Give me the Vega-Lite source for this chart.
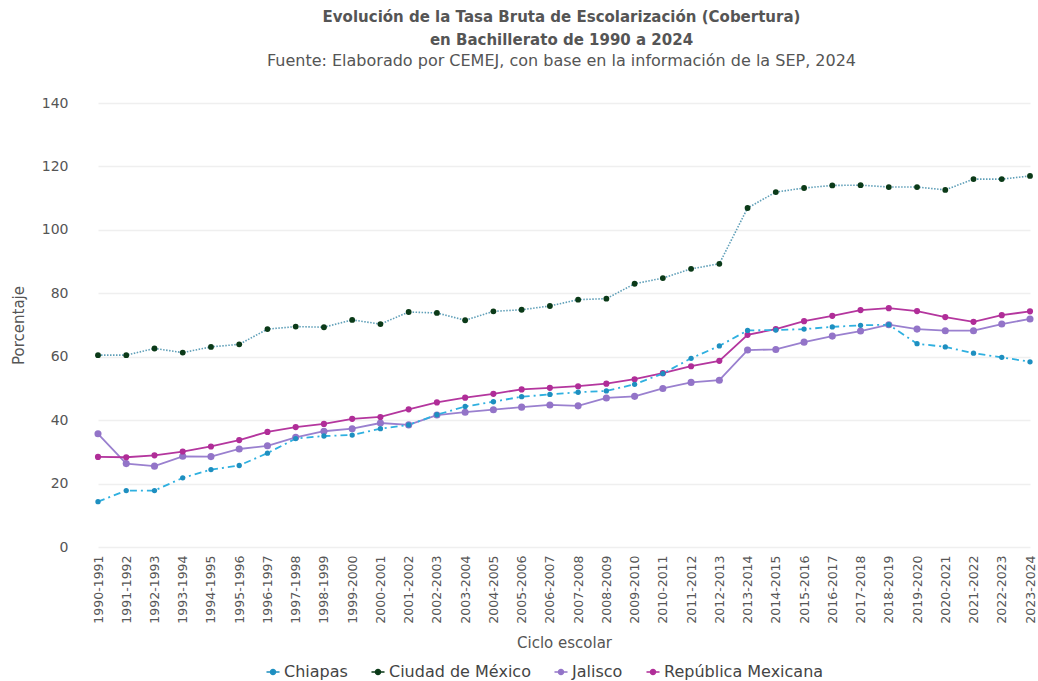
{
  "$schema": "https://vega.github.io/schema/vega-lite/v6.json",
  "width": 953,
  "height": 444,
  "autosize": "none",
  "padding": {"left": 85, "top": 103, "right": 0, "bottom": 134},
  "background": "white",
  "config": {
    "font": "DejaVu Sans",
    "view": {"stroke": null},
    "axis": {"labelColor": "#555555", "titleColor": "#555555", "titleFontWeight": "normal"}
  },
  "title": {
    "text": ["Evolución de la Tasa Bruta de Escolarización (Cobertura)", "en Bachillerato de 1990 a 2024"],
    "subtitle": "Fuente: Elaborado por CEMEJ, con base en la información de la SEP, 2024",
    "anchor": "middle",
    "fontSize": 15,
    "fontWeight": "bold",
    "color": "#555555",
    "lineHeight": 23,
    "subtitleFontSize": 16,
    "subtitleColor": "#555555",
    "subtitlePadding": 5,
    "offset": 27
  },
  "datasets": {
    "tasa": [
      {"ciclo": "1990-1991", "entidad": "Chiapas", "valor": 14.3},
      {"ciclo": "1991-1992", "entidad": "Chiapas", "valor": 17.8},
      {"ciclo": "1992-1993", "entidad": "Chiapas", "valor": 17.8},
      {"ciclo": "1993-1994", "entidad": "Chiapas", "valor": 21.8},
      {"ciclo": "1994-1995", "entidad": "Chiapas", "valor": 24.4},
      {"ciclo": "1995-1996", "entidad": "Chiapas", "valor": 25.7},
      {"ciclo": "1996-1997", "entidad": "Chiapas", "valor": 29.6},
      {"ciclo": "1997-1998", "entidad": "Chiapas", "valor": 34.2},
      {"ciclo": "1998-1999", "entidad": "Chiapas", "valor": 35.0},
      {"ciclo": "1999-2000", "entidad": "Chiapas", "valor": 35.3},
      {"ciclo": "2000-2001", "entidad": "Chiapas", "valor": 37.3},
      {"ciclo": "2001-2002", "entidad": "Chiapas", "valor": 38.5},
      {"ciclo": "2002-2003", "entidad": "Chiapas", "valor": 41.7},
      {"ciclo": "2003-2004", "entidad": "Chiapas", "valor": 44.3},
      {"ciclo": "2004-2005", "entidad": "Chiapas", "valor": 45.8},
      {"ciclo": "2005-2006", "entidad": "Chiapas", "valor": 47.4},
      {"ciclo": "2006-2007", "entidad": "Chiapas", "valor": 48.1},
      {"ciclo": "2007-2008", "entidad": "Chiapas", "valor": 48.8},
      {"ciclo": "2008-2009", "entidad": "Chiapas", "valor": 49.2},
      {"ciclo": "2009-2010", "entidad": "Chiapas", "valor": 51.3},
      {"ciclo": "2010-2011", "entidad": "Chiapas", "valor": 54.7},
      {"ciclo": "2011-2012", "entidad": "Chiapas", "valor": 59.5},
      {"ciclo": "2012-2013", "entidad": "Chiapas", "valor": 63.4},
      {"ciclo": "2013-2014", "entidad": "Chiapas", "valor": 68.3},
      {"ciclo": "2014-2015", "entidad": "Chiapas", "valor": 68.4},
      {"ciclo": "2015-2016", "entidad": "Chiapas", "valor": 68.7},
      {"ciclo": "2016-2017", "entidad": "Chiapas", "valor": 69.4},
      {"ciclo": "2017-2018", "entidad": "Chiapas", "valor": 69.9},
      {"ciclo": "2018-2019", "entidad": "Chiapas", "valor": 70.1},
      {"ciclo": "2019-2020", "entidad": "Chiapas", "valor": 64.1},
      {"ciclo": "2020-2021", "entidad": "Chiapas", "valor": 63.1},
      {"ciclo": "2021-2022", "entidad": "Chiapas", "valor": 61.1},
      {"ciclo": "2022-2023", "entidad": "Chiapas", "valor": 59.8},
      {"ciclo": "2023-2024", "entidad": "Chiapas", "valor": 58.4},
      {"ciclo": "1990-1991", "entidad": "Ciudad de México", "valor": 60.5},
      {"ciclo": "1991-1992", "entidad": "Ciudad de México", "valor": 60.5},
      {"ciclo": "1992-1993", "entidad": "Ciudad de México", "valor": 62.6},
      {"ciclo": "1993-1994", "entidad": "Ciudad de México", "valor": 61.3},
      {"ciclo": "1994-1995", "entidad": "Ciudad de México", "valor": 63.1},
      {"ciclo": "1995-1996", "entidad": "Ciudad de México", "valor": 63.9},
      {"ciclo": "1996-1997", "entidad": "Ciudad de México", "valor": 68.7},
      {"ciclo": "1997-1998", "entidad": "Ciudad de México", "valor": 69.5},
      {"ciclo": "1998-1999", "entidad": "Ciudad de México", "valor": 69.3},
      {"ciclo": "1999-2000", "entidad": "Ciudad de México", "valor": 71.6},
      {"ciclo": "2000-2001", "entidad": "Ciudad de México", "valor": 70.3},
      {"ciclo": "2001-2002", "entidad": "Ciudad de México", "valor": 74.1},
      {"ciclo": "2002-2003", "entidad": "Ciudad de México", "valor": 73.8},
      {"ciclo": "2003-2004", "entidad": "Ciudad de México", "valor": 71.5},
      {"ciclo": "2004-2005", "entidad": "Ciudad de México", "valor": 74.3},
      {"ciclo": "2005-2006", "entidad": "Ciudad de México", "valor": 74.8},
      {"ciclo": "2006-2007", "entidad": "Ciudad de México", "valor": 76.0},
      {"ciclo": "2007-2008", "entidad": "Ciudad de México", "valor": 78.0},
      {"ciclo": "2008-2009", "entidad": "Ciudad de México", "valor": 78.3},
      {"ciclo": "2009-2010", "entidad": "Ciudad de México", "valor": 83.0},
      {"ciclo": "2010-2011", "entidad": "Ciudad de México", "valor": 84.8},
      {"ciclo": "2011-2012", "entidad": "Ciudad de México", "valor": 87.7},
      {"ciclo": "2012-2013", "entidad": "Ciudad de México", "valor": 89.3},
      {"ciclo": "2013-2014", "entidad": "Ciudad de México", "valor": 106.9},
      {"ciclo": "2014-2015", "entidad": "Ciudad de México", "valor": 111.9},
      {"ciclo": "2015-2016", "entidad": "Ciudad de México", "valor": 113.2},
      {"ciclo": "2016-2017", "entidad": "Ciudad de México", "valor": 114.0},
      {"ciclo": "2017-2018", "entidad": "Ciudad de México", "valor": 114.1},
      {"ciclo": "2018-2019", "entidad": "Ciudad de México", "valor": 113.5},
      {"ciclo": "2019-2020", "entidad": "Ciudad de México", "valor": 113.5},
      {"ciclo": "2020-2021", "entidad": "Ciudad de México", "valor": 112.6},
      {"ciclo": "2021-2022", "entidad": "Ciudad de México", "valor": 116.0},
      {"ciclo": "2022-2023", "entidad": "Ciudad de México", "valor": 116.0},
      {"ciclo": "2023-2024", "entidad": "Ciudad de México", "valor": 117.0},
      {"ciclo": "1990-1991", "entidad": "Jalisco", "valor": 35.7},
      {"ciclo": "1991-1992", "entidad": "Jalisco", "valor": 26.3},
      {"ciclo": "1992-1993", "entidad": "Jalisco", "valor": 25.5},
      {"ciclo": "1993-1994", "entidad": "Jalisco", "valor": 28.6},
      {"ciclo": "1994-1995", "entidad": "Jalisco", "valor": 28.5},
      {"ciclo": "1995-1996", "entidad": "Jalisco", "valor": 30.9},
      {"ciclo": "1996-1997", "entidad": "Jalisco", "valor": 31.9},
      {"ciclo": "1997-1998", "entidad": "Jalisco", "valor": 34.6},
      {"ciclo": "1998-1999", "entidad": "Jalisco", "valor": 36.5},
      {"ciclo": "1999-2000", "entidad": "Jalisco", "valor": 37.3},
      {"ciclo": "2000-2001", "entidad": "Jalisco", "valor": 39.1},
      {"ciclo": "2001-2002", "entidad": "Jalisco", "valor": 38.5},
      {"ciclo": "2002-2003", "entidad": "Jalisco", "valor": 41.6},
      {"ciclo": "2003-2004", "entidad": "Jalisco", "valor": 42.5},
      {"ciclo": "2004-2005", "entidad": "Jalisco", "valor": 43.3},
      {"ciclo": "2005-2006", "entidad": "Jalisco", "valor": 44.1},
      {"ciclo": "2006-2007", "entidad": "Jalisco", "valor": 44.8},
      {"ciclo": "2007-2008", "entidad": "Jalisco", "valor": 44.5},
      {"ciclo": "2008-2009", "entidad": "Jalisco", "valor": 47.0},
      {"ciclo": "2009-2010", "entidad": "Jalisco", "valor": 47.5},
      {"ciclo": "2010-2011", "entidad": "Jalisco", "valor": 50.0},
      {"ciclo": "2011-2012", "entidad": "Jalisco", "valor": 51.9},
      {"ciclo": "2012-2013", "entidad": "Jalisco", "valor": 52.6},
      {"ciclo": "2013-2014", "entidad": "Jalisco", "valor": 62.1},
      {"ciclo": "2014-2015", "entidad": "Jalisco", "valor": 62.3},
      {"ciclo": "2015-2016", "entidad": "Jalisco", "valor": 64.6},
      {"ciclo": "2016-2017", "entidad": "Jalisco", "valor": 66.5},
      {"ciclo": "2017-2018", "entidad": "Jalisco", "valor": 68.1},
      {"ciclo": "2018-2019", "entidad": "Jalisco", "valor": 70.1},
      {"ciclo": "2019-2020", "entidad": "Jalisco", "valor": 68.7},
      {"ciclo": "2020-2021", "entidad": "Jalisco", "valor": 68.2},
      {"ciclo": "2021-2022", "entidad": "Jalisco", "valor": 68.2},
      {"ciclo": "2022-2023", "entidad": "Jalisco", "valor": 70.3},
      {"ciclo": "2023-2024", "entidad": "Jalisco", "valor": 71.9},
      {"ciclo": "1990-1991", "entidad": "República Mexicana", "valor": 28.4},
      {"ciclo": "1991-1992", "entidad": "República Mexicana", "valor": 28.3},
      {"ciclo": "1992-1993", "entidad": "República Mexicana", "valor": 28.9},
      {"ciclo": "1993-1994", "entidad": "República Mexicana", "valor": 30.1},
      {"ciclo": "1994-1995", "entidad": "República Mexicana", "valor": 31.7},
      {"ciclo": "1995-1996", "entidad": "República Mexicana", "valor": 33.7},
      {"ciclo": "1996-1997", "entidad": "República Mexicana", "valor": 36.3},
      {"ciclo": "1997-1998", "entidad": "República Mexicana", "valor": 37.8},
      {"ciclo": "1998-1999", "entidad": "República Mexicana", "valor": 38.8},
      {"ciclo": "1999-2000", "entidad": "República Mexicana", "valor": 40.4},
      {"ciclo": "2000-2001", "entidad": "República Mexicana", "valor": 41.0},
      {"ciclo": "2001-2002", "entidad": "República Mexicana", "valor": 43.4},
      {"ciclo": "2002-2003", "entidad": "República Mexicana", "valor": 45.6},
      {"ciclo": "2003-2004", "entidad": "República Mexicana", "valor": 47.1},
      {"ciclo": "2004-2005", "entidad": "República Mexicana", "valor": 48.3},
      {"ciclo": "2005-2006", "entidad": "República Mexicana", "valor": 49.7},
      {"ciclo": "2006-2007", "entidad": "República Mexicana", "valor": 50.2},
      {"ciclo": "2007-2008", "entidad": "República Mexicana", "valor": 50.7},
      {"ciclo": "2008-2009", "entidad": "República Mexicana", "valor": 51.5},
      {"ciclo": "2009-2010", "entidad": "República Mexicana", "valor": 52.9},
      {"ciclo": "2010-2011", "entidad": "República Mexicana", "valor": 54.8},
      {"ciclo": "2011-2012", "entidad": "República Mexicana", "valor": 57.0},
      {"ciclo": "2012-2013", "entidad": "República Mexicana", "valor": 58.7},
      {"ciclo": "2013-2014", "entidad": "República Mexicana", "valor": 66.9},
      {"ciclo": "2014-2015", "entidad": "República Mexicana", "valor": 68.7},
      {"ciclo": "2015-2016", "entidad": "República Mexicana", "valor": 71.2},
      {"ciclo": "2016-2017", "entidad": "República Mexicana", "valor": 72.9},
      {"ciclo": "2017-2018", "entidad": "República Mexicana", "valor": 74.7},
      {"ciclo": "2018-2019", "entidad": "República Mexicana", "valor": 75.3},
      {"ciclo": "2019-2020", "entidad": "República Mexicana", "valor": 74.4},
      {"ciclo": "2020-2021", "entidad": "República Mexicana", "valor": 72.5},
      {"ciclo": "2021-2022", "entidad": "República Mexicana", "valor": 71.0},
      {"ciclo": "2022-2023", "entidad": "República Mexicana", "valor": 73.1},
      {"ciclo": "2023-2024", "entidad": "República Mexicana", "valor": 74.3}
    ]
  },
  "data": {"name": "tasa"},
  "encoding": {
    "x": {
      "field": "ciclo",
      "type": "ordinal",
      "scale": {"type": "point", "range": [13, 945], "padding": 0},
      "axis": {
        "title": "Ciclo escolar",
        "titleFontSize": 15,
        "titlePadding": 12,
        "labelAngle": -90,
        "labelFontSize": 12.5,
        "labelPadding": 8,
        "ticks": false,
        "domain": false,
        "grid": false
      }
    },
    "y": {
      "field": "valor",
      "type": "quantitative",
      "scale": {"domain": [0, 140]},
      "axis": {
        "title": "Porcentaje",
        "titleFontSize": 15,
        "titlePadding": 15,
        "values": [0, 20, 40, 60, 80, 100, 120, 140],
        "labelFontSize": 14,
        "labelPadding": 17,
        "ticks": false,
        "domain": false,
        "gridColor": "#efefef",
        "gridWidth": 1.5
      }
    }
  },
  "layer": [
    {
      "transform": [{"filter": "datum.entidad === 'Ciudad de México'"}],
      "mark": {"type": "line", "stroke": "#5f9fb8", "strokeWidth": 1.6, "strokeDash": [1.5, 1.5]},
      "encoding": {}
    },
    {
      "transform": [{"filter": "datum.entidad === 'Jalisco'"}],
      "mark": {"type": "line", "stroke": "#9a80cf", "strokeWidth": 1.8},
      "encoding": {}
    },
    {
      "transform": [{"filter": "datum.entidad === 'República Mexicana'"}],
      "mark": {"type": "line", "stroke": "#b4369e", "strokeWidth": 1.8},
      "encoding": {}
    },
    {
      "transform": [{"filter": "datum.entidad === 'Chiapas'"}],
      "mark": {"type": "line", "stroke": "#2fb0e0", "strokeWidth": 1.8, "strokeDash": [7, 4, 2, 4]},
      "encoding": {}
    },
    {
      "transform": [{"filter": "datum.entidad === 'Ciudad de México'"}],
      "mark": {"type": "point", "filled": true, "opacity": 1, "size": 34},
      "encoding": {"color": {"field": "entidad", "type": "nominal"}}
    },
    {
      "transform": [{"filter": "datum.entidad === 'Jalisco'"}],
      "mark": {"type": "point", "filled": true, "opacity": 1, "size": 50},
      "encoding": {"color": {"field": "entidad", "type": "nominal"}}
    },
    {
      "transform": [{"filter": "datum.entidad === 'República Mexicana'"}],
      "mark": {"type": "point", "filled": true, "opacity": 1, "size": 38},
      "encoding": {"color": {"field": "entidad", "type": "nominal"}}
    },
    {
      "transform": [{"filter": "datum.entidad === 'Chiapas'"}],
      "mark": {"type": "point", "filled": true, "opacity": 1, "size": 28},
      "encoding": {
        "color": {
          "field": "entidad",
          "type": "nominal",
          "scale": {"domain": ["Chiapas", "Ciudad de México", "Jalisco", "República Mexicana"], "range": ["#1e8fc0", "#0b3a18", "#9374c8", "#b02d98"]},
          "legend": {
            "title": null,
            "orient": "none",
            "legendX": 180,
            "legendY": 561,
            "direction": "horizontal",
            "labelFontSize": 16,
            "labelColor": "#444444",
            "labelOffset": 3,
            "symbolType": "M-1,0H1M-0.4,0A0.4,0.4 0 1,1 0.4,0A0.4,0.4 0 1,1 -0.4,0",
            "symbolSize": 170,
            "symbolStrokeWidth": 1.2,
            "columnPadding": 20,
            "encoding": {"symbols": {"stroke": {"value": {"expr": "scale('color', datum.value)"}}, "strokeWidth": {"value": 1.3}}}
          }
        }
      }
    }
  ]
}
